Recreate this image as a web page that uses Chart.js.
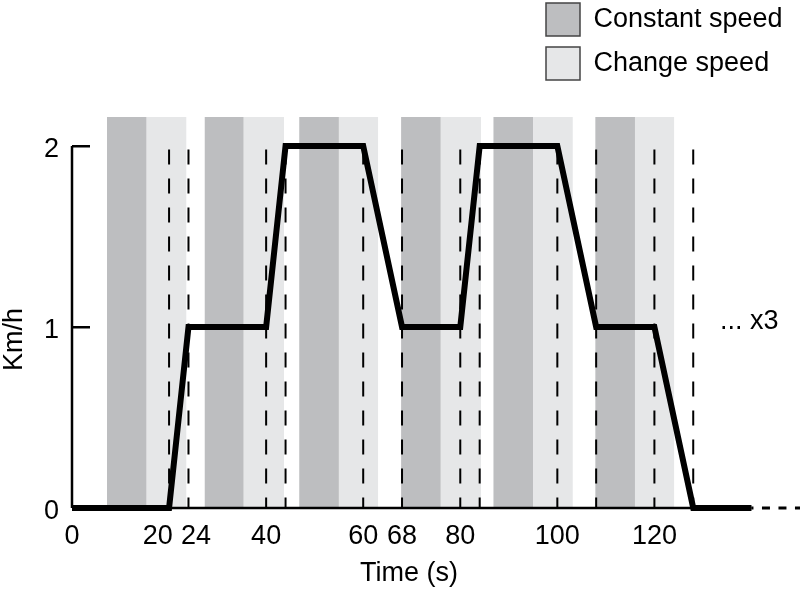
<!DOCTYPE html>
<html>
<head>
<meta charset="utf-8">
<script src="https://cdn.jsdelivr.net/npm/chart.js@4/dist/chart.umd.min.js"></script>
<style>
html,body{margin:0;padding:0;background:#fff;}
canvas{display:block;}
</style>
</head>
<body>
<canvas id="c" width="800" height="601"></canvas>
<script>
// ---- data ----
const speedTimes  = [0, 20, 24, 40, 44, 60, 68, 80, 84, 100, 108, 120, 128, 140];
const speedValues = [0, 0, 1, 1, 2, 2, 1, 1, 2, 2, 1, 1, 0, 0];
const repeatTimes  = [140, 150];
const repeatValues = [0, 0];
const dashTimes = [20, 24, 40, 44, 60, 68, 80, 84, 100, 108, 120, 128];
const constantBands = [[7.2, 15.4], [27.3, 35.4], [46.8, 55.0], [67.8, 76.0], [86.8, 95.1], [107.8, 116.0]];
const changeBands   = [[15.4, 23.6], [35.4, 43.7], [55.0, 63.1], [76.0, 84.3], [95.1, 103.2], [116.0, 124.1]];
const xTickValues = [0, 20, 24, 40, 60, 68, 80, 100, 120];
const xTickLabels = ['0', '20', '24', '40', '60', '68', '80', '100', '120'];
const yTickValues = [0, 1, 2];
const yTickLabels = ['0', '1', '2'];
const seriesNames = ['Constant speed', 'Change speed'];
const xTitle = 'Time (s)';
const yTitle = 'Km/h';
const noteText = '... x3';
const noteAt = [133.5, 1.03];
const bandTop = 2.16;
const dashTop = 1.98;
const xAxisEnd = 140;
const yAxisTop = 2;
const xMax = 150;
const yMax = 2.16;

// ---- styles ----
const FONT = '"Liberation Sans", Arial, Helvetica, sans-serif';
const FS = 27;
const DARK = '#bdbec0';
const LIGHT = '#e6e7e8';
Chart.defaults.font.family = FONT;
Chart.defaults.font.size = FS;
Chart.defaults.color = '#000';

const datasets = [];
function bandSet(b, color, name) {
  return {
    type: 'line', label: name,
    data: [{x: b[0], y: bandTop}, {x: b[1], y: bandTop}],
    fill: 'origin', backgroundColor: color, borderWidth: 0,
    pointRadius: 0, order: 10, clip: false
  };
}
constantBands.forEach(b => datasets.push(bandSet(b, DARK, seriesNames[0])));
changeBands.forEach(b => datasets.push(bandSet(b, LIGHT, seriesNames[1])));
dashTimes.forEach(t => datasets.push({
  type: 'line', label: 'dash',
  data: [{x: t, y: dashTop}, {x: t, y: 0}],
  borderColor: '#000', borderWidth: 2, borderDash: [15, 14],
  pointRadius: 0, fill: false, order: 8, clip: false
}));
// axis lines
datasets.push({
  type: 'line', label: 'xaxis',
  data: [{x: 0, y: 0}, {x: xAxisEnd, y: 0}],
  borderColor: '#000', borderWidth: 2.5, pointRadius: 0, fill: false, order: 6, clip: false
});
datasets.push({
  type: 'line', label: 'yaxis',
  data: [{x: 0, y: 0}, {x: 0, y: yAxisTop}],
  borderColor: '#000', borderWidth: 2.5, pointRadius: 0, fill: false, order: 6, clip: false
});
// repetition (dotted)
datasets.push({
  type: 'line', label: 'repeat',
  data: repeatTimes.map((t, i) => ({x: t, y: repeatValues[i]})),
  borderColor: '#000', borderWidth: 3, borderDash: [8, 8.5], borderDashOffset: 6,
  pointRadius: 0, fill: false, order: 4, clip: false
});
// speed profile
datasets.push({
  type: 'line', label: 'speed',
  data: speedTimes.map((t, i) => ({x: t, y: speedValues[i]})),
  borderColor: '#000', borderWidth: 6, borderJoinStyle: 'miter',
  pointRadius: 0, fill: false, order: 1, clip: false
});

const firstConst = 0, firstChange = constantBands.length;

const notePlugin = {
  id: 'note',
  afterDatasetsDraw(chart) {
    const {ctx, scales: {x, y}} = chart;
    ctx.save();
    ctx.font = FS + 'px ' + FONT;
    ctx.fillStyle = '#000';
    ctx.textAlign = 'left';
    ctx.textBaseline = 'middle';
    ctx.fillText(noteText, x.getPixelForValue(noteAt[0]), y.getPixelForValue(noteAt[1]));
    ctx.restore();
  }
};

const legendPlace = {
  id: 'legendPlace',
  afterLayout(chart) {
    const lg = chart.legend;
    if (!lg) return;
    const pad = lg.options.labels.padding;
    lg.left = 546 - pad;
    lg.top = 3 - pad;
    lg.right = 800;
    lg.bottom = 120;
    lg.width = lg.right - lg.left;
    lg.height = lg.bottom - lg.top;
  }
};

new Chart(document.getElementById('c'), {
  type: 'line',
  data: {datasets},
  options: {
    responsive: false,
    animation: false,
    devicePixelRatio: 1,
    layout: {padding: {top: 117, left: 0, right: 0, bottom: 0}},
    scales: {
      x: {
        type: 'linear', position: 'bottom', min: 0, max: xMax,
        grid: {display: false}, border: {display: false},
        afterBuildTicks: s => { s.ticks = xTickValues.map(v => ({value: v})); },
        afterFit: s => { s.height = 93; },
        ticks: {
          autoSkip: false, maxRotation: 0, minRotation: 0, padding: 4,
          font: {size: FS}, color: '#000',
          callback: (v) => {
            const i = xTickValues.indexOf(v);
            const t = i >= 0 ? xTickLabels[i] : '';
            if (v === 20) return t + '   ';
            if (v === 24) return '  ' + t;
            return t;
          }
        },
        title: {display: true, text: xTitle + '\u2003\u2003', font: {size: FS}, color: '#000', padding: {top: 0, bottom: 11}}
      },
      y: {
        type: 'linear', position: 'left', min: 0, max: yMax,
        border: {display: false},
        grid: {display: true, drawOnChartArea: false, drawTicks: true, tickLength: -18, color: '#000', lineWidth: 2.5},
        afterBuildTicks: s => { s.ticks = yTickValues.map(v => ({value: v})); },
        afterFit: s => { s.width = 72; },
        ticks: {
          padding: 31, labelOffset: 4, font: {size: FS}, color: '#000',
          callback: (v) => { const i = yTickValues.indexOf(v); return i >= 0 ? yTickLabels[i] : ''; }
        },
        title: {display: true, text: yTitle + '\u2003\u2003', font: {size: FS, lineHeight: 1.05}, color: '#000', padding: {top: 0, bottom: 0}}
      }
    },
    plugins: {
      tooltip: {enabled: false},
      legend: {
        display: true, position: 'chartArea', align: 'start', fullSize: false,
        labels: {
          boxWidth: 34, boxHeight: 33, padding: 11, color: '#000',
          font: {size: FS},
          generateLabels: () => [
            {text: seriesNames[0], fillStyle: DARK, strokeStyle: '#444', lineWidth: 1.5, hidden: false, datasetIndex: firstConst},
            {text: seriesNames[1], fillStyle: LIGHT, strokeStyle: '#444', lineWidth: 1.5, hidden: false, datasetIndex: firstChange}
          ]
        }
      }
    }
  },
  plugins: [notePlugin, legendPlace]
});
</script>
</body>
</html>
